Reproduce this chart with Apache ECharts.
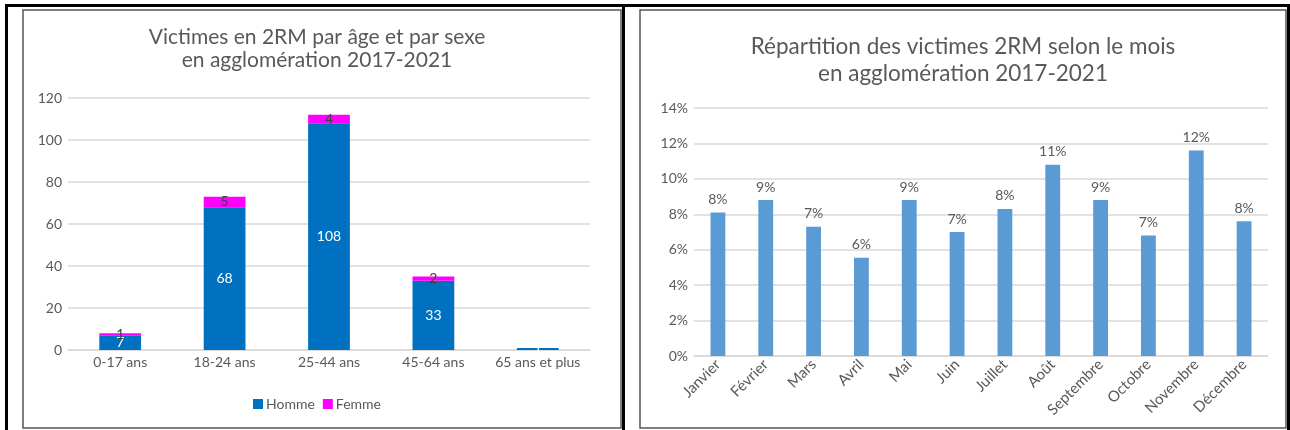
<!DOCTYPE html>
<html>
<head>
<meta charset="utf-8">
<script src="https://cdn.jsdelivr.net/npm/echarts@6/dist/echarts.min.js"></script>
<style>
  html, body { margin: 0; padding: 0; background: #ffffff; }
  #chart { width: 1290px; height: 430px; }
</style>
</head>
<body>
<div id="chart"></div>
<script>
// Victimes 2RM par tranche d'âge et par sexe
const ageCategories = ['0-17 ans', '18-24 ans', '25-44 ans', '45-64 ans', '65 ans et plus'];
const hommeValues = [7, 68, 108, 33, 1];
const femmeValues = [1, 5, 4, 2, 0];
const ageTicks = [0, 20, 40, 60, 80, 100, 120];

// Répartition mensuelle (part du total)
const months = ['Janvier', 'Février', 'Mars', 'Avril', 'Mai', 'Juin', 'Juillet', 'Août',
                'Septembre', 'Octobre', 'Novembre', 'Décembre'];
const monthShares = [0.081, 0.088, 0.073, 0.0555, 0.088, 0.070, 0.083, 0.108, 0.088, 0.068, 0.116, 0.076];
const shareTicks = [0, 0.02, 0.04, 0.06, 0.08, 0.10, 0.12, 0.14];

const FONT = 'Lato, "Open Sans", sans-serif';
const GREY = '#595959';
const GRID_LINE = '#d9d9d9';

const chart = echarts.init(document.getElementById('chart'), null, { renderer: 'canvas' });

const pct = v => Math.round(v * 100) + '%';

const option = {
  animation: false,
  textStyle: { fontFamily: FONT },
  title: [
    {
      text: 'Victimes en 2RM par âge et par sexe\nen agglomération 2017-2021',
      left: 312, top: 21, textAlign: 'center',
      textStyle: { fontFamily: FONT, fontSize: 21, fontWeight: 'normal', color: GREY, lineHeight: 23 }
    },
    {
      text: 'Répartition des victimes 2RM selon le mois\nen agglomération 2017-2021',
      left: 958, top: 28, textAlign: 'center',
      textStyle: { fontFamily: FONT, fontSize: 22.5, fontWeight: 'normal', color: GREY, lineHeight: 27 }
    }
  ],
  legend: {
    data: ['Homme', 'Femme'],
    left: 248, top: 392,
    itemWidth: 10, itemHeight: 10, itemGap: 8,
    icon: 'rect',
    textStyle: { fontFamily: FONT, fontSize: 14, color: GREY, padding: [0, 0, 0, -2] }
  },
  grid: [
    { left: 68, right: 700, top: 98, bottom: 80 },
    { left: 694, right: 22, top: 108, bottom: 74 }
  ],
  xAxis: [
    {
      type: 'category', gridIndex: 0, data: ageCategories,
      axisLine: { lineStyle: { color: GRID_LINE, width: 1.5 } },
      axisTick: { show: false },
      axisLabel: { color: GREY, fontSize: 14, margin: 5, interval: 0, fontFamily: FONT }
    },
    {
      type: 'category', gridIndex: 1, data: months,
      axisLine: { lineStyle: { color: GRID_LINE, width: 1.5 } },
      axisTick: { show: false },
      axisLabel: { color: GREY, fontSize: 15, margin: 6, rotate: 45, interval: 0, fontFamily: FONT }
    }
  ],
  yAxis: [
    {
      type: 'value', gridIndex: 0,
      min: ageTicks[0], max: ageTicks[ageTicks.length - 1], interval: ageTicks[1] - ageTicks[0],
      axisLine: { show: false }, axisTick: { show: false },
      axisLabel: { color: GREY, fontSize: 14, margin: 6, fontFamily: FONT },
      splitLine: { lineStyle: { color: GRID_LINE, width: 1.5 } }
    },
    {
      type: 'value', gridIndex: 1,
      min: shareTicks[0], max: shareTicks[shareTicks.length - 1], interval: shareTicks[1] - shareTicks[0],
      axisLine: { show: false }, axisTick: { show: false },
      axisLabel: { color: GREY, fontSize: 14, margin: 6, fontFamily: FONT, formatter: pct },
      splitLine: { lineStyle: { color: GRID_LINE, width: 1.5 } }
    }
  ],
  series: [
    {
      name: 'Homme', type: 'bar', stack: 'age', xAxisIndex: 0, yAxisIndex: 0,
      data: hommeValues, barWidth: '40%',
      itemStyle: { color: '#0070C0' },
      label: {
        show: true, position: 'inside', color: '#ffffff', fontSize: 14, fontFamily: FONT,
        formatter: p => p.value ? String(p.value) : ''
      }
    },
    {
      name: 'Femme', type: 'bar', stack: 'age', xAxisIndex: 0, yAxisIndex: 0,
      data: femmeValues, barWidth: '40%',
      itemStyle: { color: '#FF00FF' },
      label: {
        show: true, position: 'inside', color: '#404040', fontSize: 14, fontFamily: FONT,
        formatter: p => p.value ? String(p.value) : ''
      }
    },
    {
      name: 'Part', type: 'bar', xAxisIndex: 1, yAxisIndex: 1,
      data: monthShares, barWidth: '31%',
      itemStyle: { color: '#5B9BD5' },
      label: {
        show: true, position: 'top', distance: 6, color: GREY, fontSize: 14, fontFamily: FONT,
        formatter: p => pct(p.value)
      }
    }
  ],
  graphic: [
    // page frame lines
    { type: 'rect', shape: { x: 5, y: 4, width: 1285, height: 3 }, style: { fill: '#000' } },
    { type: 'rect', shape: { x: 5, y: 4, width: 3, height: 426 }, style: { fill: '#000' } },
    { type: 'rect', shape: { x: 622, y: 4, width: 3, height: 426 }, style: { fill: '#000' } },
    { type: 'rect', shape: { x: 1287, y: 4, width: 3, height: 426 }, style: { fill: '#000' } },
    // chart frames
    { type: 'rect', shape: { x: 23, y: 10, width: 598, height: 418 }, style: { fill: 'none', stroke: '#555', lineWidth: 1.5 } },
    { type: 'rect', shape: { x: 640, y: 10, width: 646, height: 418 }, style: { fill: 'none', stroke: '#555', lineWidth: 1.5 } }
  ]
};

chart.setOption(option);
</script>
</body>
</html>
